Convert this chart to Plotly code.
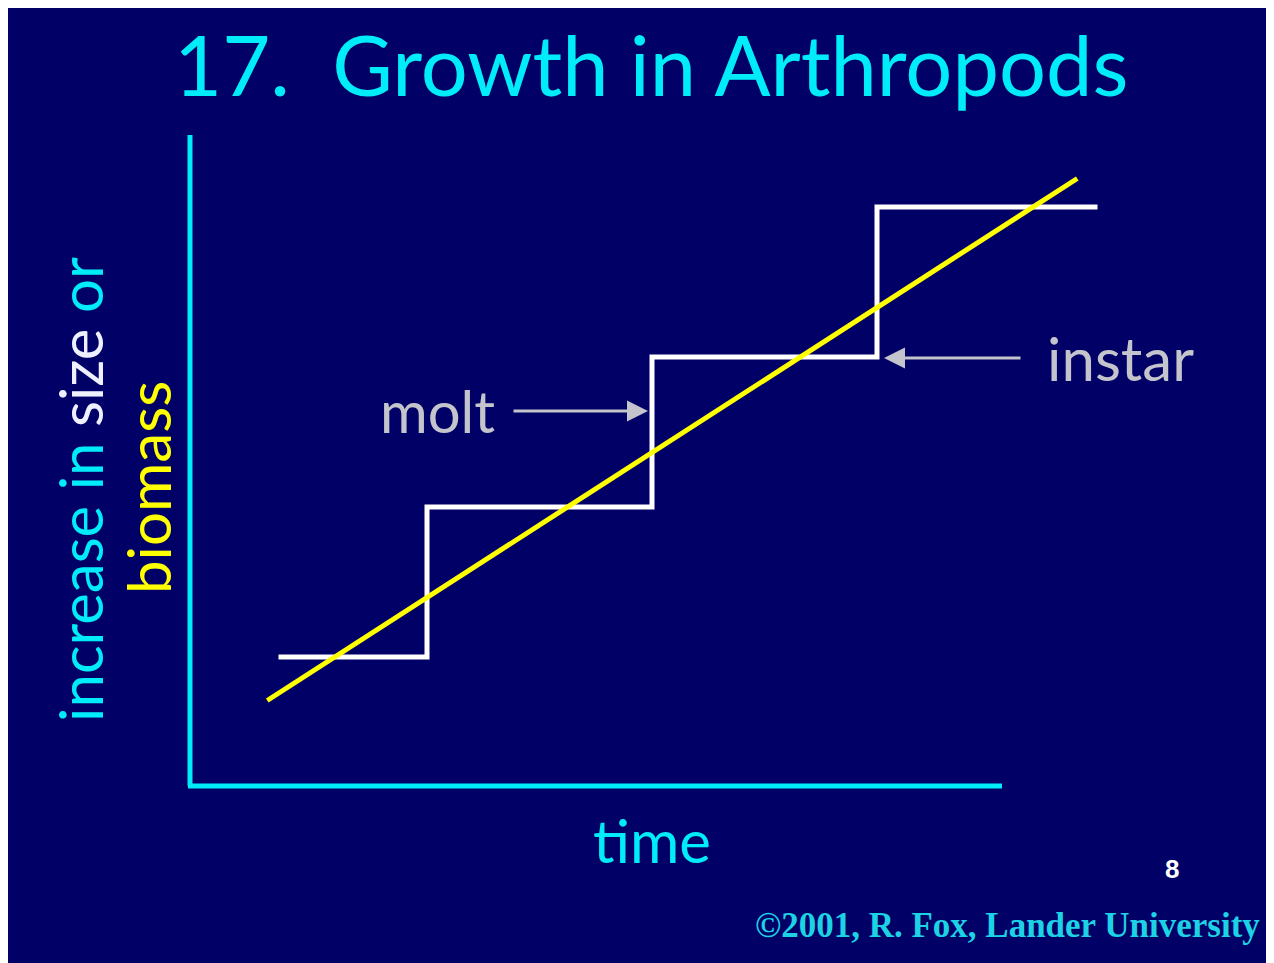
import plotly.graph_objects as go

# ---- data (time in instar units, size in arbitrary units) ----
step_time = [0.34, 1.0, 2.0, 3.0, 3.98]
step_size = [1.0, 2.0, 3.0, 4.0, 4.0]
trend_time = [0.29, 3.89]
trend_size = [0.71, 4.19]

title_text = "17.  Growth in Arthropods"
x_label = "time"
y_label_1 = "increase in "
y_label_size = "size"
y_label_2 = " or"
y_label_3 = "biomass"
molt_label = "molt"
instar_label = "instar"
credit = "©2001, R. Fox, Lander University"
page_no = "8"

BG = "#000066"
CYAN = "#00ecf8"
GRAY = "#c4c4cc"
YELLOW = "#ffff00"
FONT = "Comic Sans MS, Lato, sans-serif"

# page offset (browser body margin)
OX, OY = 8, 8
W, H = 1274 - OX, 963 - OY
# plot area in page pixels
PL, PR, PT, PB = 190, 1110, 135, 787
L, R, T, B = PL - OX, W - (PR - OX), PT - OY, H - (PB - OY)
PW, PH = W - L - R, H - T - B


def px(x):
    return (x - OX - L) / PW


def py(y):
    return 1 - (y - OY - T) / PH


fig = go.Figure()
fig.add_trace(go.Scatter(x=step_time, y=step_size, mode="lines", line_shape="hv",
                         line=dict(color="white", width=5), hoverinfo="skip"))
fig.add_trace(go.Scatter(x=trend_time, y=trend_size, mode="lines",
                         line=dict(color=YELLOW, width=5), hoverinfo="skip"))


def txt(text, x, y, size, color, family=FONT, angle=0, weight="normal"):
    return dict(text=text, x=px(x), y=py(y), xref="paper", yref="paper",
                xanchor="center", yanchor="middle", textangle=angle, showarrow=False,
                font=dict(family=family, size=size, color=color, weight=weight))


ann = [
    txt(title_text, 651, 64, 83, CYAN),
    txt(x_label, 652, 840, 60, CYAN),
    txt((f"<span style='color:{CYAN}'>{y_label_1}</span>"
         f"<span style='color:#eef0ff'>{y_label_size}</span>"
         f"<span style='color:{CYAN}'>{y_label_2}</span>"), 80, 490, 60, CYAN, angle=-90),
    txt(y_label_3, 148, 488, 60, YELLOW, angle=-90),
    txt(molt_label, 437, 410, 58, GRAY),
    txt(instar_label, 1120, 358, 60, GRAY),
    txt(credit, 1007, 925, 35, "#1cd2e4", family="Liberation Serif, Times New Roman, serif", weight="bold"),
    txt(page_no, 1172, 869, 26, "white", family="Liberation Sans, Arial, sans-serif", weight="bold"),
]
# arrows
ann.append(dict(text="", x=px(648), y=py(411), xref="paper", yref="paper", showarrow=True,
                ax=-136, ay=0, arrowhead=2, arrowsize=1.4, arrowwidth=3, arrowcolor=GRAY))
ann.append(dict(text="", x=px(884), y=py(358), xref="paper", yref="paper", showarrow=True,
                ax=138, ay=0, arrowhead=2, arrowsize=1.4, arrowwidth=3, arrowcolor=GRAY))

shapes = [
    dict(type="line", xref="paper", yref="paper", x0=px(188), x1=px(1002), y0=py(786), y1=py(786),
         line=dict(color=CYAN, width=5)),
    dict(type="line", xref="paper", yref="paper", x0=px(190), x1=px(190), y0=py(786), y1=py(135),
         line=dict(color=CYAN, width=5)),
]

fig.update_layout(
    width=W, height=H,
    margin=dict(l=L, r=R, t=T, b=B),
    paper_bgcolor=BG, plot_bgcolor=BG,
    showlegend=False,
    annotations=ann, shapes=shapes,
    xaxis=dict(range=[(PL - 202) / 225, (PR - 202) / 225], visible=False, fixedrange=True),
    yaxis=dict(range=[(807 - PB) / 150, (807 - PT) / 150], visible=False, fixedrange=True),
)

fig.write_html("out.html")
